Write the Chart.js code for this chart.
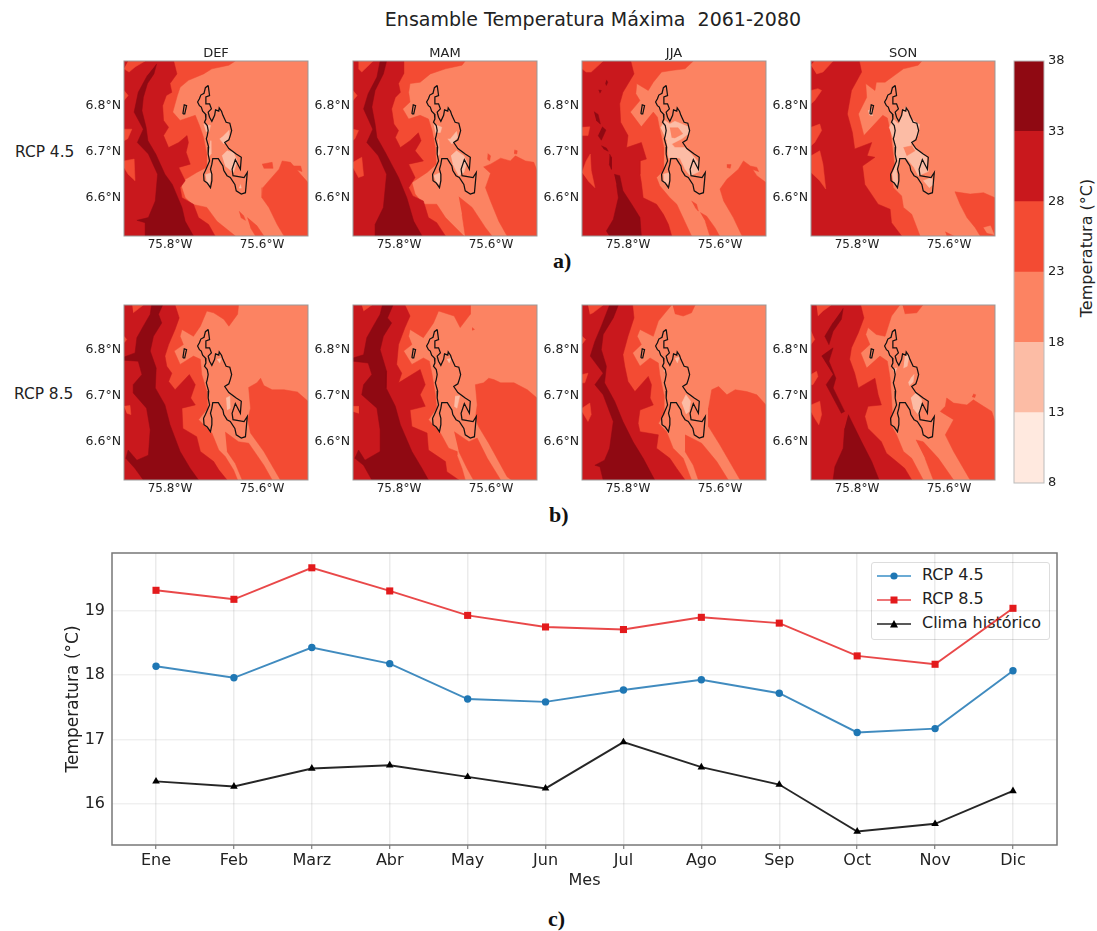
<!DOCTYPE html>
<html lang="es">
<head>
<meta charset="utf-8">
<title>Ensamble Temperatura Máxima</title>
<script src="https://cdn.jsdelivr.net/npm/chart.js@4"></script>
<style>
  html, body { margin: 0; padding: 0; background: #fff; }
  body { position: relative; width: 1097px; height: 931px; overflow: hidden; font-family: "DejaVu Sans", sans-serif; color: #222; }
  canvas { position: absolute; }
  .txt { position: absolute; white-space: pre; }
  .letra { font: bold 22px "Liberation Serif", serif; color: #111; }
  #leyenda { position: absolute; left: 871px; top: 562px; width: 177px; height: 76px; background: rgba(255,255,255,.8); border: 1px solid #ddd; border-radius: 3px; font-size: 16px; }
  #leyenda div { position: absolute; left: 50px; white-space: pre; }
  #leyenda svg { position: absolute; left: 5px; }
</style>
</head>
<body>
<div class="txt" style="left:0;width:1186px;text-align:center;top:8px;font-size:19px">Ensamble Temperatura Máxima  2061-2080</div>
<div class="txt" style="left:15px;top:143px;font-size:15.4px">RCP 4.5</div>
<div class="txt" style="left:14px;top:385px;font-size:15.4px">RCP 8.5</div>
<div class="txt letra" style="left:553px;top:248px">a)</div>
<div class="txt letra" style="left:549px;top:502px">b)</div>
<div class="txt letra" style="left:548px;top:906px">c)</div>
<div class="txt" style="left:1086px;top:248px;font-size:16px;transform:translate(-50%,-50%) rotate(-90deg)">Temperatura (°C)</div>
<div id="leyenda"></div>

<script>
// Escala de colores
const nivelesColor = [8, 13, 18, 23, 28, 33, 38];
const coloresNivel = ['#ffe9df', '#fcbca5', '#fc8362', '#f34b33', '#c9181d', '#8f0912'];
const ticksColor = [8, 13, 18, 23, 28, 33, 38];

// Ejes de los mapas (grados oeste / norte)
const lonMin = -75.9, lonMax = -75.5, latMin = 6.518, latMax = 6.898;
const ticksLon = [-75.8, -75.6];
const ticksLat = [6.6, 6.7, 6.8];
const marcoMapa = [75.9, 6.518, 75.5, 6.518, 75.5, 6.898, 75.9, 6.898];

// Contorno de la cuenca (igual en todos los mapas)
const cuenca = [75.717,6.845, 75.723,6.84, 75.726,6.828, 75.733,6.824, 75.736,6.816, 75.74,6.809, 75.736,6.801, 75.732,6.798, 75.729,6.789, 75.723,6.783, 75.722,6.772, 75.725,6.765, 75.719,6.758, 75.717,6.747, 75.719,6.736, 75.721,6.729, 75.716,6.711, 75.717,6.696, 75.714,6.681, 75.723,6.66, 75.727,6.652, 75.726,6.638, 75.719,6.633, 75.712,6.623, 75.709,6.638, 75.709,6.652, 75.712,6.663, 75.709,6.674, 75.707,6.686, 75.695,6.686, 75.69,6.678, 75.685,6.67, 75.683,6.66, 75.676,6.649, 75.669,6.645, 75.659,6.63, 75.656,6.616, 75.645,6.609, 75.636,6.612, 75.634,6.634, 75.632,6.656, 75.639,6.645, 75.663,6.649, 75.665,6.663, 75.658,6.684, 75.647,6.663, 75.645,6.689, 75.656,6.696, 75.672,6.708, 75.681,6.721, 75.672,6.727, 75.669,6.736, 75.666,6.747, 75.67,6.763, 75.678,6.765, 75.685,6.78, 75.688,6.789, 75.693,6.796, 75.694,6.789, 75.701,6.792, 75.703,6.78, 75.709,6.767, 75.714,6.776, 75.717,6.787, 75.71,6.794, 75.714,6.805, 75.722,6.805, 75.722,6.82, 75.714,6.823, 75.717,6.845];
const isla = [75.772,6.783, 75.769,6.803, 75.764,6.801, 75.768,6.783, 75.772,6.783];

// DEF RCP 4.5
const def45_n23 = [
  [75.658,6.898, 75.672,6.889, 75.709,6.881, 75.727,6.87, 75.76,6.856, 75.778,6.841, 75.784,6.823, 75.794,6.787, 75.778,6.769, 75.745,6.78, 75.736,6.758, 75.727,6.732, 75.72,6.696, 75.721,6.667, 75.742,6.656, 75.778,6.634, 75.767,6.601, 75.752,6.587, 75.72,6.58, 75.698,6.55, 75.658,6.518, 75.9,6.518, 75.9,6.898],
  [75.5,6.634, 75.516,6.652, 75.538,6.678, 75.556,6.681, 75.563,6.663, 75.585,6.638, 75.598,6.623, 75.6,6.601, 75.585,6.58, 75.567,6.543, 75.552,6.518, 75.5,6.518],
  [75.6,6.674, 75.578,6.678, 75.576,6.665, 75.596,6.665],
  [75.534,6.67, 75.516,6.67, 75.513,6.658, 75.528,6.663],
  [75.632,6.558, 75.611,6.54, 75.596,6.518, 75.614,6.518, 75.625,6.536],
  [75.65,6.572, 75.64,6.562, 75.636,6.552, 75.646,6.558]
];
const def45_n28 = [
  [75.792,6.898, 75.785,6.87, 75.8,6.849, 75.796,6.83, 75.808,6.823, 75.816,6.801, 75.814,6.769, 75.803,6.754, 75.814,6.736, 75.803,6.71, 75.781,6.721, 75.763,6.736, 75.76,6.721, 75.765,6.7, 75.756,6.674, 75.781,6.667, 75.767,6.638, 75.778,6.623, 75.774,6.601, 75.749,6.587, 75.738,6.558, 75.716,6.543, 75.702,6.518, 75.9,6.518, 75.9,6.898]
];
const def45_n23b = [
  [75.891,6.898, 75.854,6.898, 75.876,6.885, 75.889,6.874, 75.9,6.881],
  [75.9,6.834, 75.891,6.823, 75.9,6.812],
  [75.9,6.75, 75.883,6.75, 75.892,6.729, 75.9,6.725],
  [75.9,6.681, 75.878,6.685, 75.876,6.638, 75.891,6.652, 75.9,6.667]
];
const def45_n33 = [
  [75.829,6.892, 75.835,6.87, 75.849,6.849, 75.858,6.819, 75.861,6.79, 75.852,6.754, 75.848,6.725, 75.831,6.696, 75.811,6.652, 75.795,6.63, 75.774,6.58, 75.767,6.55, 75.749,6.518, 75.854,6.518, 75.854,6.547, 75.872,6.552, 75.847,6.558, 75.832,6.594, 75.827,6.652, 75.847,6.696, 75.871,6.721, 75.858,6.75, 75.878,6.787, 75.869,6.83, 75.849,6.867]
];
const def45_n13 = [
  [75.727,6.761, 75.712,6.758, 75.715,6.745, 75.722,6.745],
  [75.683,6.736, 75.672,6.747, 75.672,6.729, 75.683,6.718, 75.692,6.729],
  [75.687,6.692, 75.676,6.703, 75.662,6.7, 75.654,6.681, 75.662,6.656, 75.68,6.67],
  [75.712,6.725, 75.711,6.696, 75.716,6.689, 75.715,6.71],
  [75.723,6.651, 75.709,6.656, 75.715,6.627, 75.72,6.634],
  [75.647,6.63, 75.645,6.622, 75.65,6.622]
];

// MAM RCP 4.5
const mam45_n23 = [
  [75.656,6.898, 75.663,6.889, 75.699,6.881, 75.732,6.87, 75.754,6.852, 75.776,6.849, 75.779,6.83, 75.776,6.809, 75.792,6.794, 75.779,6.772, 75.754,6.78, 75.736,6.772, 75.728,6.747, 75.721,6.71, 75.719,6.674, 75.739,6.656, 75.772,6.634, 75.765,6.609, 75.747,6.587, 75.718,6.587, 75.699,6.558, 75.659,6.518, 75.9,6.518, 75.9,6.898],
  [75.67,6.603, 75.641,6.58, 75.612,6.536, 75.598,6.518, 75.656,6.518, 75.663,6.565],
  [75.5,6.66, 75.507,6.678, 75.525,6.681, 75.547,6.692, 75.558,6.681, 75.579,6.687, 75.601,6.674, 75.616,6.668, 75.601,6.654, 75.612,6.623, 75.601,6.594, 75.583,6.55, 75.565,6.518, 75.5,6.518],
  [75.549,6.705, 75.543,6.703, 75.544,6.696, 75.55,6.697],
  [75.607,6.697, 75.601,6.692, 75.603,6.681, 75.608,6.685]
];
const mam45_n28 = [
  [75.79,6.898, 75.79,6.87, 75.801,6.849, 75.797,6.83, 75.808,6.819, 75.816,6.794, 75.811,6.761, 75.801,6.747, 75.808,6.732, 75.797,6.71, 75.776,6.725, 75.758,6.742, 75.752,6.725, 75.765,6.703, 75.747,6.681, 75.779,6.674, 75.765,6.645, 75.779,6.623, 75.77,6.605, 75.747,6.594, 75.736,6.558, 75.718,6.547, 75.699,6.518, 75.9,6.518, 75.9,6.898]
];
const mam45_n23b = [
  [75.888,6.898, 75.856,6.898, 75.881,6.874, 75.888,6.881],
  [75.9,6.834, 75.891,6.823, 75.9,6.812],
  [75.9,6.75, 75.888,6.747, 75.896,6.729, 75.9,6.726],
  [75.9,6.678, 75.881,6.689, 75.877,6.649, 75.888,6.645, 75.9,6.667]
];
const mam45_n33 = [
  [75.827,6.898, 75.834,6.87, 75.852,6.834, 75.859,6.798, 75.852,6.761, 75.848,6.732, 75.83,6.7, 75.801,6.645, 75.783,6.601, 75.768,6.55, 75.75,6.518, 75.852,6.518, 75.852,6.543, 75.834,6.58, 75.827,6.652, 75.845,6.692, 75.87,6.721, 75.857,6.75, 75.877,6.794, 75.867,6.827, 75.848,6.863, 75.841,6.898]
];
const mam45_n13 = [
  [75.725,6.761, 75.707,6.754, 75.71,6.743, 75.721,6.743],
  [75.688,6.729, 75.675,6.745, 75.672,6.732, 75.685,6.718, 75.694,6.729],
  [75.687,6.692, 75.675,6.703, 75.659,6.692, 75.652,6.678, 75.659,6.656, 75.67,6.649, 75.683,6.674],
  [75.714,6.729, 75.712,6.696, 75.715,6.692],
  [75.725,6.649, 75.71,6.656, 75.712,6.63, 75.719,6.634]
];

// JJA RCP 4.5
const jja45_n23 = [
  [75.658,6.898, 75.676,6.881, 75.702,6.878, 75.727,6.874, 75.745,6.852, 75.756,6.834, 75.781,6.849, 75.783,6.827, 75.774,6.812, 75.795,6.787, 75.771,6.755, 75.745,6.787, 75.736,6.776, 75.731,6.75, 75.722,6.71, 75.723,6.66, 75.738,6.645, 75.731,6.627, 75.709,6.601, 75.694,6.587, 75.662,6.518, 75.9,6.518, 75.9,6.898],
  [75.5,6.634, 75.52,6.649, 75.534,6.67, 75.549,6.681, 75.56,6.663, 75.585,6.641, 75.6,6.62, 75.592,6.594, 75.571,6.558, 75.552,6.518, 75.5,6.518],
  [75.585,6.673, 75.576,6.673, 75.578,6.665, 75.585,6.667],
  [75.534,6.67, 75.52,6.667, 75.516,6.658, 75.531,6.663],
  [75.662,6.594, 75.651,6.587, 75.647,6.572, 75.654,6.58],
  [75.643,6.569, 75.629,6.561, 75.611,6.536, 75.601,6.518, 75.622,6.518, 75.632,6.55]
];
const jja45_n28 = [
  [75.794,6.898, 75.787,6.87, 75.811,6.83, 75.818,6.805, 75.816,6.765, 75.8,6.736, 75.803,6.71, 75.771,6.721, 75.76,6.685, 75.774,6.681, 75.774,6.652, 75.771,6.634, 75.767,6.601, 75.738,6.587, 75.723,6.565, 75.712,6.543, 75.705,6.518, 75.9,6.518, 75.9,6.898]
];
const jja45_n23b = [
  [75.9,6.898, 75.854,6.898, 75.88,6.874, 75.891,6.874, 75.9,6.881],
  [75.9,6.754, 75.883,6.755, 75.887,6.736, 75.9,6.736],
  [75.9,6.656, 75.891,6.681, 75.882,6.696, 75.88,6.66, 75.872,6.623, 75.887,6.638]
];
const jja45_n33 = [
  [75.83,6.652, 75.818,6.649, 75.811,6.616, 75.792,6.587, 75.774,6.558, 75.771,6.518, 75.84,6.518, 75.847,6.529, 75.832,6.554, 75.821,6.601, 75.825,6.63],
  [75.847,6.857, 75.844,6.852, 75.847,6.845, 75.849,6.85],
  [75.864,6.835, 75.858,6.834, 75.861,6.828],
  [75.874,6.788, 75.865,6.782, 75.86,6.761, 75.869,6.769],
  [75.856,6.755, 75.848,6.748, 75.858,6.726, 75.865,6.736],
  [75.858,6.714, 75.847,6.709, 75.843,6.702, 75.853,6.707],
  [75.84,6.696, 75.836,6.689, 75.836,6.663, 75.841,6.674]
];
const jja45_n13 = [
  [75.729,6.753, 75.72,6.769, 75.709,6.761, 75.698,6.767, 75.683,6.761, 75.669,6.755, 75.667,6.741, 75.683,6.729, 75.705,6.718, 75.698,6.71, 75.676,6.71, 75.662,6.696, 75.647,6.678, 75.645,6.658, 75.665,6.649, 75.676,6.663, 75.687,6.687, 75.705,6.689, 75.712,6.687, 75.716,6.725],
  [75.723,6.652, 75.71,6.656, 75.712,6.63, 75.722,6.634]
];
const jja45_n18 = [
  [75.709,6.753, 75.691,6.753, 75.681,6.74, 75.698,6.731, 75.705,6.732]
];

// SON RCP 4.5
const son45_n23 = [
  [75.659,6.898, 75.667,6.889, 75.699,6.881, 75.739,6.852, 75.758,6.852, 75.761,6.834, 75.781,6.849, 75.779,6.819, 75.797,6.783, 75.785,6.736, 75.744,6.78, 75.734,6.774, 75.728,6.747, 75.723,6.71, 75.718,6.667, 75.726,6.656, 75.721,6.623, 75.703,6.605, 75.699,6.58, 75.681,6.565, 75.663,6.518, 75.9,6.518, 75.9,6.898],
  [75.5,6.601, 75.525,6.612, 75.554,6.609, 75.587,6.614, 75.576,6.587, 75.561,6.558, 75.543,6.536, 75.532,6.518, 75.5,6.518],
  [75.608,6.527, 75.59,6.518, 75.605,6.518]
];
const son45_n28 = [
  [75.795,6.898, 75.79,6.874, 75.812,6.834, 75.821,6.783, 75.81,6.743, 75.805,6.707, 75.768,6.721, 75.778,6.692, 75.761,6.689, 75.788,6.67, 75.783,6.63, 75.754,6.587, 75.728,6.576, 75.725,6.547, 75.703,6.518, 75.9,6.518, 75.9,6.898]
];
const son45_n23b = [
  [75.9,6.889, 75.892,6.898, 75.852,6.898, 75.874,6.874, 75.888,6.87],
  [75.9,6.834, 75.885,6.838, 75.877,6.834, 75.892,6.812, 75.9,6.805],
  [75.9,6.754, 75.881,6.761, 75.877,6.747, 75.892,6.721, 75.9,6.714],
  [75.9,6.692, 75.881,6.703, 75.874,6.674, 75.868,6.62, 75.881,6.638, 75.9,6.656]
];
const son45_n13 = [
  [75.73,6.753, 75.721,6.772, 75.71,6.761, 75.703,6.78, 75.694,6.799, 75.685,6.774, 75.664,6.76, 75.667,6.736, 75.683,6.716, 75.667,6.705, 75.648,6.689, 75.645,6.658, 75.667,6.649, 75.676,6.667, 75.691,6.685, 75.707,6.685, 75.714,6.658, 75.71,6.625, 75.721,6.634, 75.723,6.652, 75.715,6.678, 75.72,6.725],
  [75.656,6.638, 75.638,6.645, 75.634,6.63, 75.643,6.623],
  [75.776,6.79, 75.769,6.793, 75.766,6.779, 75.773,6.781]
];
const son45_n18 = [
  [75.699,6.71, 75.681,6.714, 75.674,6.703, 75.692,6.692],
  [75.525,6.536, 75.51,6.54, 75.502,6.521, 75.518,6.525]
];

// DEF RCP 8.5
const def85_n23 = [
  [75.651,6.898, 75.653,6.878, 75.672,6.852, 75.683,6.867, 75.705,6.881, 75.72,6.885, 75.734,6.852, 75.749,6.83, 75.774,6.845, 75.778,6.83, 75.771,6.812, 75.791,6.798, 75.778,6.769, 75.749,6.787, 75.734,6.78, 75.731,6.747, 75.72,6.71, 75.718,6.674, 75.738,6.649, 75.709,6.62, 75.694,6.583, 75.68,6.569, 75.662,6.54, 75.653,6.518, 75.9,6.518, 75.9,6.898],
  [75.68,6.622, 75.651,6.601, 75.629,6.598, 75.596,6.55, 75.578,6.518, 75.643,6.518, 75.658,6.554, 75.676,6.58],
  [75.5,6.689, 75.523,6.709, 75.552,6.714, 75.578,6.714, 75.596,6.723, 75.603,6.739, 75.611,6.729, 75.629,6.719, 75.625,6.674, 75.631,6.649, 75.625,6.62, 75.596,6.58, 75.56,6.518, 75.5,6.518]
];
const def85_n28 = [
  [75.789,6.898, 75.78,6.87, 75.789,6.845, 75.803,6.812, 75.811,6.787, 75.807,6.765, 75.796,6.75, 75.803,6.732, 75.789,6.714, 75.758,6.747, 75.745,6.725, 75.755,6.696, 75.745,6.681, 75.774,6.674, 75.772,6.63, 75.742,6.612, 75.734,6.58, 75.705,6.558, 75.694,6.54, 75.676,6.518, 75.9,6.518, 75.9,6.898]
];
const def85_n23b = [
  [75.882,6.898, 75.858,6.898, 75.88,6.881],
  [75.9,6.83, 75.894,6.823, 75.9,6.816],
  [75.9,6.678, 75.887,6.68, 75.885,6.66, 75.894,6.663]
];
const def85_n33 = [
  [75.816,6.898, 75.825,6.878, 75.818,6.859, 75.836,6.83, 75.843,6.798, 75.83,6.761, 75.832,6.718, 75.811,6.681, 75.8,6.638, 75.778,6.58, 75.756,6.543, 75.738,6.518, 75.858,6.518, 75.876,6.543, 75.896,6.565, 75.891,6.583, 75.872,6.561, 75.847,6.572, 75.843,6.627, 75.851,6.674, 75.88,6.707, 75.88,6.725, 75.861,6.747, 75.869,6.776, 75.9,6.778, 75.9,6.785, 75.876,6.794, 75.872,6.827, 75.858,6.852, 75.843,6.878, 75.84,6.898]
];
const def85_n13 = [
  [75.678,6.696, 75.67,6.7, 75.669,6.674, 75.676,6.67],
  [75.698,6.78, 75.689,6.782, 75.692,6.772]
];

// MAM RCP 8.5
const mam85_n23 = [
  [75.645,6.898, 75.645,6.878, 75.667,6.849, 75.68,6.874, 75.714,6.885, 75.725,6.859, 75.747,6.827, 75.776,6.845, 75.779,6.83, 75.772,6.812, 75.79,6.798, 75.772,6.769, 75.747,6.783, 75.734,6.776, 75.728,6.747, 75.721,6.703, 75.718,6.674, 75.736,6.649, 75.71,6.62, 75.692,6.587, 75.674,6.58, 75.674,6.572, 75.663,6.543, 75.656,6.518, 75.9,6.518, 75.9,6.898],
  [75.68,6.623, 75.648,6.601, 75.63,6.609, 75.608,6.565, 75.579,6.518, 75.638,6.518, 75.652,6.543, 75.67,6.58],
  [75.5,6.696, 75.521,6.714, 75.55,6.729, 75.579,6.729, 75.594,6.736, 75.605,6.739, 75.616,6.729, 75.634,6.725, 75.63,6.681, 75.634,6.652, 75.627,6.634, 75.605,6.598, 75.565,6.525, 75.555,6.518, 75.5,6.518],
  [75.641,6.849, 75.636,6.845, 75.641,6.843]
];
const mam85_n28 = [
  [75.787,6.898, 75.776,6.874, 75.787,6.849, 75.801,6.812, 75.805,6.769, 75.794,6.75, 75.801,6.729, 75.754,6.758, 75.743,6.725, 75.754,6.703, 75.743,6.678, 75.776,6.67, 75.772,6.634, 75.739,6.62, 75.736,6.583, 75.699,6.558, 75.696,6.536, 75.67,6.518, 75.9,6.518, 75.9,6.898]
];
const mam85_n23b = [
  [75.881,6.898, 75.859,6.898, 75.877,6.885],
  [75.9,6.678, 75.888,6.678, 75.888,6.663, 75.9,6.667]
];
const mam85_n33 = [
  [75.813,6.898, 75.825,6.87, 75.816,6.859, 75.834,6.83, 75.841,6.801, 75.827,6.754, 75.828,6.718, 75.808,6.678, 75.797,6.638, 75.772,6.58, 75.75,6.543, 75.736,6.518, 75.859,6.518, 75.877,6.55, 75.896,6.565, 75.888,6.583, 75.874,6.561, 75.841,6.58, 75.841,6.627, 75.848,6.674, 75.881,6.703, 75.877,6.725, 75.859,6.747, 75.867,6.772, 75.9,6.776, 75.9,6.783, 75.877,6.79, 75.87,6.827, 75.856,6.852, 75.841,6.878, 75.836,6.898]
];
const mam85_n13 = [
  [75.678,6.7, 75.668,6.701, 75.674,6.674, 75.68,6.678],
  [75.696,6.78, 75.687,6.782, 75.691,6.772]
];

// JJA RCP 8.5
const jja85_n23 = [
  [75.705,6.898, 75.716,6.885, 75.734,6.863, 75.745,6.83, 75.774,6.845, 75.78,6.83, 75.771,6.812, 75.79,6.794, 75.774,6.765, 75.752,6.783, 75.734,6.772, 75.731,6.747, 75.722,6.703, 75.722,6.66, 75.734,6.641, 75.716,6.623, 75.702,6.587, 75.68,6.565, 75.662,6.518, 75.9,6.518, 75.9,6.898],
  [75.703,6.898, 75.654,6.898, 75.662,6.881, 75.68,6.874, 75.698,6.879],
  [75.676,6.616, 75.64,6.598, 75.607,6.558, 75.582,6.518, 75.647,6.518, 75.658,6.55, 75.676,6.58],
  [75.5,6.681, 75.52,6.703, 75.542,6.71, 75.567,6.714, 75.585,6.703, 75.603,6.721, 75.618,6.714, 75.625,6.674, 75.625,6.634, 75.6,6.594, 75.556,6.518, 75.5,6.518]
];
const jja85_n28 = [
  [75.79,6.898, 75.787,6.87, 75.8,6.83, 75.811,6.79, 75.807,6.765, 75.8,6.732, 75.785,6.71, 75.756,6.743, 75.749,6.725, 75.752,6.696, 75.745,6.681, 75.774,6.67, 75.778,6.641, 75.774,6.623, 75.734,6.616, 75.738,6.587, 75.709,6.565, 75.694,6.543, 75.676,6.518, 75.9,6.518, 75.9,6.898]
];
const jja85_n23b = [
  [75.887,6.898, 75.854,6.898, 75.876,6.881, 75.883,6.878],
  [75.9,6.83, 75.892,6.823, 75.9,6.813],
  [75.9,6.747, 75.887,6.75, 75.894,6.729, 75.9,6.729],
  [75.9,6.674, 75.883,6.685, 75.88,6.66, 75.887,6.645, 75.9,6.667]
];
const jja85_n33 = [
  [75.821,6.898, 75.832,6.87, 75.854,6.834, 75.858,6.801, 75.847,6.765, 75.851,6.729, 75.829,6.689, 75.811,6.645, 75.789,6.601, 75.767,6.565, 75.742,6.518, 75.854,6.518, 75.861,6.547, 75.872,6.55, 75.851,6.561, 75.84,6.587, 75.832,6.645, 75.854,6.703, 75.872,6.725, 75.854,6.75, 75.882,6.787, 75.872,6.819, 75.858,6.852, 75.84,6.898]
];
const jja85_n13 = [
  [75.683,6.685, 75.674,6.703, 75.664,6.689, 75.667,6.667, 75.674,6.661],
  [75.698,6.782, 75.688,6.785, 75.693,6.772],
  [75.723,6.755, 75.717,6.758, 75.72,6.753]
];

// SON RCP 8.5
const son85_n23 = [
  [75.707,6.898, 75.725,6.874, 75.739,6.83, 75.758,6.834, 75.776,6.849, 75.781,6.834, 75.772,6.812, 75.792,6.794, 75.779,6.761, 75.75,6.787, 75.734,6.776, 75.728,6.739, 75.725,6.696, 75.723,6.66, 75.728,6.641, 75.714,6.616, 75.699,6.58, 75.681,6.565, 75.656,6.518, 75.9,6.518, 75.9,6.898],
  [75.701,6.898, 75.657,6.898, 75.67,6.881, 75.696,6.879],
  [75.672,6.605, 75.656,6.601, 75.623,6.565, 75.59,6.518, 75.634,6.518, 75.652,6.565],
  [75.5,6.645, 75.507,6.667, 75.525,6.678, 75.547,6.692, 75.561,6.681, 75.59,6.685, 75.605,6.696, 75.608,6.678, 75.619,6.667, 75.59,6.649, 75.608,6.616, 75.59,6.58, 75.554,6.518, 75.5,6.518],
  [75.547,6.705, 75.542,6.703, 75.544,6.697, 75.55,6.699]
];
const son85_n28 = [
  [75.792,6.898, 75.785,6.87, 75.797,6.838, 75.812,6.805, 75.816,6.78, 75.805,6.75, 75.797,6.718, 75.761,6.739, 75.754,6.703, 75.747,6.681, 75.776,6.678, 75.783,6.656, 75.776,6.63, 75.747,6.601, 75.736,6.576, 75.714,6.558, 75.696,6.543, 75.681,6.518, 75.9,6.518, 75.9,6.898]
];
const son85_n23b = [
  [75.888,6.898, 75.856,6.898, 75.874,6.885, 75.885,6.874],
  [75.9,6.841, 75.892,6.823, 75.9,6.812],
  [75.9,6.747, 75.888,6.754, 75.885,6.743, 75.896,6.725, 75.9,6.725],
  [75.9,6.681, 75.881,6.689, 75.877,6.66, 75.883,6.638, 75.892,6.652, 75.9,6.667]
];
const son85_n33 = [
  [75.83,6.891, 75.834,6.867, 75.852,6.841, 75.861,6.812, 75.87,6.83, 75.852,6.86],
  [75.877,6.787, 75.852,6.805, 75.861,6.776, 75.846,6.739, 75.852,6.718, 75.827,6.667, 75.834,6.663, 75.867,6.725, 75.852,6.747],
  [75.819,6.66, 75.79,6.601, 75.768,6.558, 75.752,6.518, 75.852,6.518, 75.848,6.547, 75.83,6.587, 75.827,6.63]
];
const son85_n13 = [
  [75.683,6.739, 75.676,6.747, 75.678,6.731, 75.686,6.723, 75.688,6.731],
  [75.683,6.696, 75.672,6.707, 75.659,6.692, 75.662,6.67, 75.667,6.66, 75.678,6.674],
  [75.696,6.787, 75.686,6.79, 75.691,6.765, 75.699,6.761],
  [75.723,6.758, 75.714,6.761, 75.717,6.75]
];

// Serie mensual
const meses = ['Ene', 'Feb', 'Marz', 'Abr', 'May', 'Jun', 'Jul', 'Ago', 'Sep', 'Oct', 'Nov', 'Dic'];
const rcp45 = [18.14, 17.96, 18.43, 18.18, 17.63, 17.585, 17.77, 17.93, 17.72, 17.11, 17.17, 18.07];
const rcp85 = [19.32, 19.18, 19.67, 19.31, 18.93, 18.75, 18.71, 18.9, 18.81, 18.3, 18.17, 19.04];
const historico = [16.35, 16.27, 16.55, 16.6, 16.42, 16.24, 16.96, 16.57, 16.3, 15.57, 15.69, 16.2];
const ticksTemp = [16, 17, 18, 19];

const FUENTE = '"DejaVu Sans", sans-serif';
Chart.defaults.font.family = FUENTE;
Chart.defaults.color = '#222';
Chart.defaults.animation = false;
Chart.defaults.events = [];

// Marco gris alrededor del area de datos
const marco = {
  id: 'marco',
  afterDraw(chart, args, opts) {
    const a = chart.chartArea, ctx = chart.ctx;
    ctx.save();
    ctx.strokeStyle = opts.color || '#888';
    ctx.lineWidth = opts.width || 1;
    ctx.strokeRect(a.left, a.top, a.right - a.left, a.bottom - a.top);
    ctx.restore();
  }
};
Chart.register(marco);

function nuevoCanvas(left, top, width, height) {
  const c = document.createElement('canvas');
  c.width = width;
  c.height = height;
  c.style.left = left + 'px';
  c.style.top = top + 'px';
  document.body.appendChild(c);
  return c.getContext('2d');
}

function aPuntos(plano) {
  const pts = [];
  for (let i = 0; i < plano.length; i += 2) pts.push({ x: -plano[i], y: plano[i + 1] });
  return pts;
}

function capa(plano, color) {
  return { data: aPuntos(plano), showLine: true, fill: 'shape', backgroundColor: color, borderColor: color, borderWidth: 0.5, pointRadius: 0 };
}

function linea(plano) {
  return { data: aPuntos(plano), showLine: true, fill: false, borderColor: '#111', borderWidth: 1.25, pointRadius: 0 };
}

// El eje y no debe reservar espacio extra por media etiqueta
function sinMargen(ax, ancho) {
  ax.width = ancho;
  ax.paddingTop = 0;
  ax.paddingBottom = 0;
}

function dibujarMapa(left, top, titulo, p) {
  const ds = [capa(marcoMapa, coloresNivel[2])];
  (p.n23 || []).forEach(q => ds.push(capa(q, coloresNivel[3])));
  (p.n28 || []).forEach(q => ds.push(capa(q, coloresNivel[4])));
  (p.n23b || []).forEach(q => ds.push(capa(q, coloresNivel[3])));
  (p.n33 || []).forEach(q => ds.push(capa(q, coloresNivel[5])));
  (p.n13 || []).forEach(q => ds.push(capa(q, coloresNivel[1])));
  (p.n18 || []).forEach(q => ds.push(capa(q, coloresNivel[2])));
  ds.push(linea(cuenca));
  ds.push(linea(isla));
  // Chart.js pinta primero el ultimo dataset
  ds.reverse();

  const arriba = titulo ? 20 : 5;
  new Chart(nuevoCanvas(left - 52, top - arriba, 239, arriba + 175 + 22), {
    type: 'scatter',
    data: { datasets: ds },
    options: {
      responsive: false,
      layout: { padding: { top: titulo ? 0 : 5, right: 3 } },
      plugins: {
        legend: { display: false },
        tooltip: { enabled: false },
        title: { display: !!titulo, text: titulo, fullSize: false, font: { size: 13, weight: 'normal', lineHeight: 1 }, color: '#222', padding: { top: 6, bottom: 1 } },
        marco: { color: '#999', width: 1 }
      },
      scales: {
        x: {
          type: 'linear', min: lonMin, max: lonMax,
          grid: { display: false, drawTicks: false }, border: { display: false },
          afterBuildTicks: ax => { ax.ticks = ticksLon.map(v => ({ value: v })); },
          afterFit: ax => { ax.height = 22; },
          ticks: { maxRotation: 0, padding: 2, font: { size: 12 }, callback: v => Math.abs(v).toFixed(1) + '°W' }
        },
        y: {
          min: latMin, max: latMax,
          grid: { display: false, drawTicks: false }, border: { display: false },
          afterBuildTicks: ax => { ax.ticks = ticksLat.map(v => ({ value: v })); },
          afterFit: ax => sinMargen(ax, 52),
          ticks: { padding: 3, font: { size: 12.5 }, callback: v => v.toFixed(1) + '°N' }
        }
      }
    }
  });
}

const columnas = [124, 353, 582, 811];
const fila45 = [
  { titulo: 'DEF', n23: def45_n23, n28: def45_n28, n23b: def45_n23b, n33: def45_n33, n13: def45_n13 },
  { titulo: 'MAM', n23: mam45_n23, n28: mam45_n28, n23b: mam45_n23b, n33: mam45_n33, n13: mam45_n13 },
  { titulo: 'JJA', n23: jja45_n23, n28: jja45_n28, n23b: jja45_n23b, n33: jja45_n33, n13: jja45_n13, n18: jja45_n18 },
  { titulo: 'SON', n23: son45_n23, n28: son45_n28, n23b: son45_n23b, n13: son45_n13, n18: son45_n18 }
];
const fila85 = [
  { n23: def85_n23, n28: def85_n28, n23b: def85_n23b, n33: def85_n33, n13: def85_n13 },
  { n23: mam85_n23, n28: mam85_n28, n23b: mam85_n23b, n33: mam85_n33, n13: mam85_n13 },
  { n23: jja85_n23, n28: jja85_n28, n23b: jja85_n23b, n33: jja85_n33, n13: jja85_n13 },
  { n23: son85_n23, n28: son85_n28, n23b: son85_n23b, n33: son85_n33, n13: son85_n13 }
];
fila45.forEach((p, i) => dibujarMapa(columnas[i], 61, p.titulo, p));
fila85.forEach((p, i) => dibujarMapa(columnas[i], 305, '', p));

// Barra de colores
new Chart(nuevoCanvas(1005, 51, 92, 442), {
  type: 'bar',
  data: {
    labels: [''],
    datasets: coloresNivel.map((c, i) => ({ data: [[nivelesColor[i], nivelesColor[i + 1]]], backgroundColor: c, barPercentage: 1, categoryPercentage: 1, grouped: false }))
  },
  options: {
    responsive: false,
    layout: { padding: { top: 10, bottom: 10, left: 9 } },
    plugins: { legend: { display: false }, tooltip: { enabled: false }, marco: { color: '#bbb', width: 1 } },
    scales: {
      x: { display: false },
      y: {
        position: 'right', min: 8, max: 38,
        grid: { display: false, drawTicks: false }, border: { display: false },
        afterBuildTicks: ax => { ax.ticks = ticksColor.map(v => ({ value: v })); },
        afterFit: ax => sinMargen(ax, 53),
        ticks: { padding: 4, font: { size: 13 } }
      }
    }
  }
});

// Grafico de lineas
function serie(etiqueta, valores, colorLinea, colorPunto, estilo, radio) {
  return {
    label: etiqueta,
    data: valores.map((v, i) => ({ x: i, y: v })),
    borderColor: colorLinea, borderWidth: 1.9,
    pointStyle: estilo, pointRadius: radio,
    pointBackgroundColor: colorPunto, pointBorderColor: colorPunto, pointBorderWidth: 0,
    tension: 0
  };
}

new Chart(nuevoCanvas(60, 545, 1005, 350), {
  type: 'line',
  data: {
    datasets: [
      serie('RCP 4.5', rcp45, 'rgba(31,119,180,.85)', '#1f77b4', 'circle', 3.7),
      serie('RCP 8.5', rcp85, 'rgba(227,26,28,.8)', '#e31a1c', 'rect', 5),
      serie('Clima histórico', historico, 'rgba(0,0,0,.85)', '#000', 'triangle', 4.4)
    ]
  },
  options: {
    responsive: false,
    layout: { padding: { top: 8, right: 8 } },
    plugins: { legend: { display: false }, tooltip: { enabled: false }, marco: { color: '#777', width: 1.5 } },
    scales: {
      x: {
        type: 'linear', min: -0.565, max: 11.565,
        grid: { color: 'rgba(0,0,0,.08)', lineWidth: 1.5, tickLength: 4, tickColor: '#666', tickWidth: 1 }, border: { display: false },
        afterBuildTicks: ax => { ax.ticks = meses.map((m, i) => ({ value: i })); },
        afterFit: ax => { ax.height = 50; },
        ticks: { padding: 2, maxRotation: 0, font: { size: 16 }, callback: v => meses[v] },
        title: { display: true, text: 'Mes', font: { size: 16 }, padding: { top: 0, bottom: 5 } }
      },
      y: {
        min: 15.36, max: 19.9,
        grid: { color: 'rgba(0,0,0,.06)', lineWidth: 1.5, tickLength: 4, tickColor: 'transparent', tickWidth: 1 }, border: { display: false },
        afterBuildTicks: ax => { ax.ticks = ticksTemp.map(v => ({ value: v })); },
        afterFit: ax => sinMargen(ax, 52),
        ticks: { padding: 3, font: { size: 16 }, callback: v => String(v) },
        title: { display: true, text: 'Temperatura (°C)', font: { size: 17 }, padding: { top: 3, bottom: 0 } }
      }
    }
  }
});

// Leyenda sobre el area de datos
const leyendaItems = [
  { texto: 'RCP 4.5', color: '#3a8fc7', punto: '<circle cx="17" cy="8" r="3.6" fill="#1f77b4"/>' },
  { texto: 'RCP 8.5', color: '#e8474a', punto: '<rect x="13.5" y="4.5" width="7" height="7" fill="#e31a1c"/>' },
  { texto: 'Clima histórico', color: '#222', punto: '<path d="M17 4 L21 11.5 L13 11.5 Z" fill="#000"/>' }
];
leyendaItems.forEach((it, i) => {
  const y = 5 + i * 24;
  const caja = document.getElementById('leyenda');
  caja.insertAdjacentHTML('beforeend',
    `<svg width="36" height="16" style="top:${y}px"><line x1="0" y1="8" x2="34" y2="8" stroke="${it.color}" stroke-width="1.6"/>${it.punto}</svg>` +
    `<div style="top:${y - 3}px">${it.texto}</div>`);
});
</script>
</body>
</html>
